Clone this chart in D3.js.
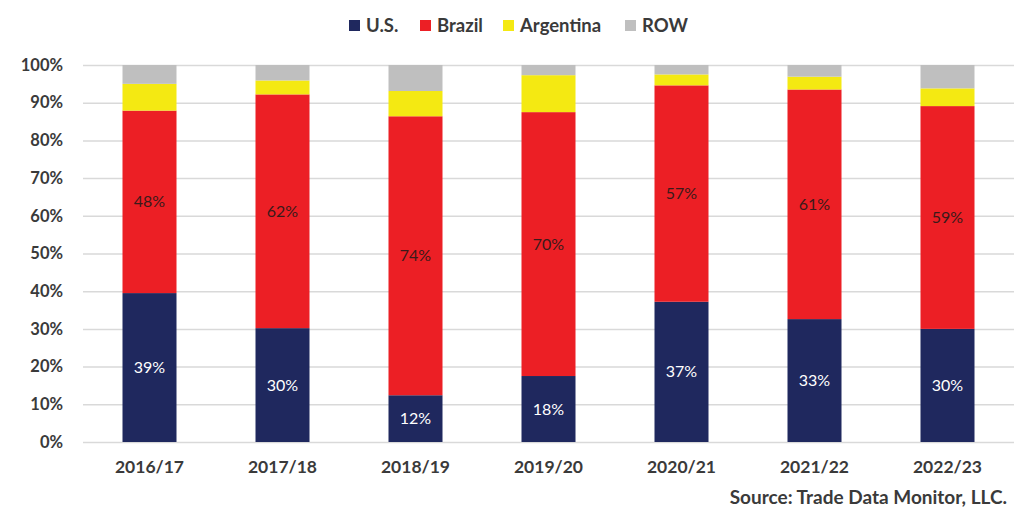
<!DOCTYPE html>
<html>
<head>
<meta charset="utf-8">
<script src="https://cdn.jsdelivr.net/npm/d3@7"></script>
<style>
  body { margin: 0; background: #fff; }
  svg text { font-family: Lato, "Open Sans", sans-serif; }
</style>
</head>
<body>
<script>
// data (share of total, %)
var years = ["2016/17", "2017/18", "2018/19", "2019/20", "2020/21", "2021/22", "2022/23"];
var seriesNames = ["U.S.", "Brazil", "Argentina", "ROW"];
var usVals = [39.5, 30.2, 12.4, 17.5, 37.2, 32.6, 30.0];
var brazilVals = [48.4, 62.0, 74.0, 70.0, 57.4, 60.9, 59.1];
var argentinaVals = [7.1, 3.7, 6.7, 9.8, 2.9, 3.4, 4.7];
var rowVals = [5.0, 4.1, 6.9, 2.7, 2.5, 3.1, 6.2];
var usLabels = ["39%", "30%", "12%", "18%", "37%", "33%", "30%"];
var brazilLabels = ["48%", "62%", "74%", "70%", "57%", "61%", "59%"];
var yTicks = [0, 10, 20, 30, 40, 50, 60, 70, 80, 90, 100];

var colors = ["#1f285e", "#ec1f25", "#f4e912", "#bfbfbf"];
var W = 1027, H = 509;
var margin = {left: 83, right: 13, top: 65, bottom: 67};

var rows = years.map(function(y, i){
	return {year: y, "U.S.": usVals[i], "Brazil": brazilVals[i], "Argentina": argentinaVals[i], "ROW": rowVals[i]};
});

var svg = d3.select("body").append("svg")
	.attr("width", W)
	.attr("height", H);

var x = d3.scaleBand()
	.domain(years)
	.range([margin.left, W - margin.right])
	.paddingInner(0.594)
	.paddingOuter(0.297);
var y = d3.scaleLinear()
	.domain([0, 100])
	.range([H - margin.bottom, margin.top]);

//网格线
svg.append("g").selectAll("line")
	.data(yTicks)
	.enter()
	.append("line")
	.attr("x1", margin.left)
	.attr("x2", W - margin.right)
	.attr("y1", function(d){ return y(d) + 0.5; })
	.attr("y2", function(d){ return y(d) + 0.5; })
	.style("stroke", "#d9d9d9")
	.style("stroke-width", 1.5);

// y axis
var yAxis = svg.append("g")
	.attr("transform", "translate(" + (margin.left - 20) + ",0)")
	.call(d3.axisLeft(y).tickValues(yTicks).tickSize(0).tickPadding(0)
		.tickFormat(function(d){ return d + "%"; }));
yAxis.select(".domain").remove();
yAxis.selectAll("text")
	.style("font-size", "16.5px")
	.style("font-weight", "bold")
	.style("fill", "#3a3a3a");

// x axis
var xAxis = svg.append("g")
	.attr("transform", "translate(0," + (H - margin.bottom) + ")")
	.call(d3.axisBottom(x).tickSize(0).tickPadding(19));
xAxis.select(".domain").remove();
xAxis.selectAll("text")
	.style("font-size", "17.5px")
	.style("font-weight", "bold")
	.style("fill", "#3a3a3a");

// stacked bars
var stack = d3.stack().keys(seriesNames);
var layers = stack(rows);

svg.append("g").selectAll("g")
	.data(layers)
	.enter()
	.append("g")
	.style("fill", function(d, i){ return colors[i]; })
	.selectAll("rect")
	.data(function(d){ return d; })
	.enter()
	.append("rect")
	.attr("x", function(d){ return x(d.data.year); })
	.attr("width", x.bandwidth())
	.attr("y", function(d){ return y(d[1]); })
	.attr("height", function(d){ return y(d[0]) - y(d[1]); });

// labels
function addLabels(layer, labels, fill){
	svg.append("g").selectAll("text")
		.data(layer)
		.enter()
		.append("text")
		.text(function(d, i){ return labels[i]; })
		.attr("x", function(d){ return x(d.data.year) + x.bandwidth() / 2; })
		.attr("y", function(d){ return y((d[0] + d[1]) / 2); })
		.attr("dy", ".35em")
		.attr("text-anchor", "middle")
		.style("font-size", "16px")
		.style("fill", fill);
}
addLabels(layers[0], usLabels, "#ffffff");
addLabels(layers[1], brazilLabels, "#3a1a1a");

// legend
var legendX = [349, 420, 503, 625];
var legend = svg.append("g").selectAll("g")
	.data(seriesNames)
	.enter()
	.append("g")
	.attr("transform", function(d, i){ return "translate(" + legendX[i] + ",20)"; });
legend.append("rect")
	.attr("width", 11)
	.attr("height", 11)
	.style("fill", function(d, i){ return colors[i]; });
legend.append("text")
	.text(function(d){ return d; })
	.attr("x", 17)
	.attr("y", 6)
	.attr("dy", ".35em")
	.style("font-size", "18.5px")
	.style("font-weight", "bold")
	.style("fill", "#3a3a3a");

// source
svg.append("text")
	.text("Source: Trade Data Monitor, LLC.")
	.attr("x", 1007)
	.attr("y", 504)
	.attr("text-anchor", "end")
	.style("font-size", "19px")
	.style("font-weight", "bold")
	.style("fill", "#3a3a3a");
</script>
</body>
</html>
